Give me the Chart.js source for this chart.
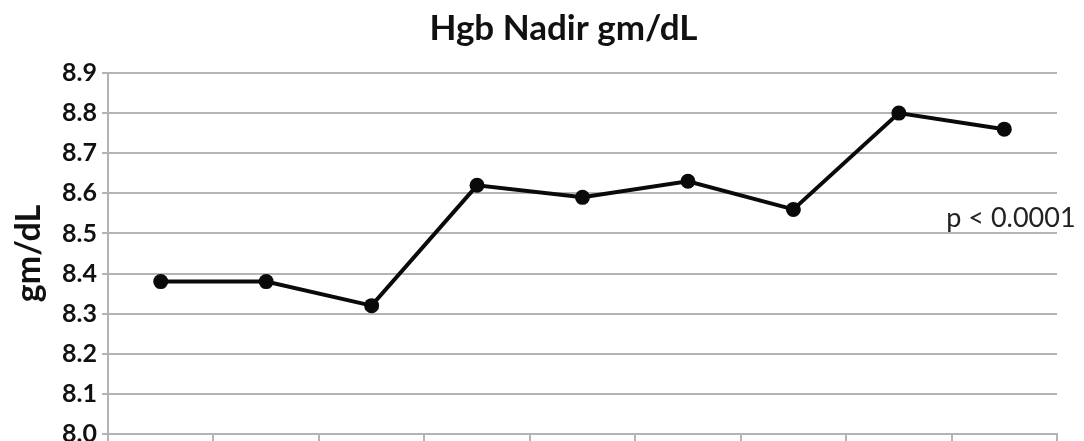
<!DOCTYPE html>
<html>
<head>
<meta charset="utf-8">
<script src="https://cdn.jsdelivr.net/npm/chart.js@4"></script>
<style>
  html, body { margin: 0; padding: 0; background: #fff; overflow: hidden; }
  #wrap { width: 1084px; height: 454px; }
</style>
</head>
<body>
<div id="wrap"><canvas id="hgbChart"></canvas></div>
<script>
// Datos
const categories = ["1", "2", "3", "4", "5", "6", "7", "8", "9"];
const hgbNadir = [8.38, 8.38, 8.32, 8.62, 8.59, 8.63, 8.56, 8.80, 8.76];
const yTicks = [8.0, 8.1, 8.2, 8.3, 8.4, 8.5, 8.6, 8.7, 8.8, 8.9];
const chartTitle = "Hgb Nadir gm/dL";
const pValueText = "p < 0.0001";

const gridGray = "#b4b4b4";

// Titulo y valor p dibujados a mano
const textPlugin = {
  id: "chartText",
  afterDraw(chart) {
    const ctx = chart.ctx;
    const area = chart.chartArea;
    ctx.save();
    ctx.fillStyle = "#111";
    ctx.textAlign = "center";
    ctx.textBaseline = "alphabetic";
    ctx.font = "bold 35px Lato";
    ctx.fillText(chartTitle, area.left + area.width * 0.48, 40);

    // valor p, justo encima de la linea 8.5 junto al ultimo punto
    const x = chart.scales.x.getPixelForValue(8) - 58;
    const y = chart.scales.y.getPixelForValue(8.5) - 6;
    ctx.font = "27px Lato";
    ctx.fillStyle = "#222";
    ctx.textAlign = "left";
    ctx.fillText(pValueText, x, y);
    ctx.restore();
  },
};

const ctx = document.getElementById("hgbChart").getContext("2d");
new Chart(ctx, {
  type: "line",
  data: {
    labels: categories,
    datasets: [
      {
        label: "Hgb Nadir",
        data: hgbNadir,
        borderColor: "#0a0a0a",
        backgroundColor: "#0a0a0a",
        borderWidth: 4,
        pointRadius: 7.5,
        pointHoverRadius: 7.5,
        pointBorderWidth: 0,
        fill: false,
        tension: 0,
      },
    ],
  },
  options: {
    responsive: true,
    maintainAspectRatio: false,
    animation: false,
    layout: { padding: { left: 0, right: 27, top: 73, bottom: 0 } },
    plugins: {
      legend: { display: false },
      tooltip: { enabled: false },
      title: { display: false },
    },
    scales: {
      x: {
        offset: true,
        ticks: { display: false },
        grid: {
          offset: true,
          drawOnChartArea: false,
          drawTicks: true,
          tickLength: 9,
          color: gridGray,
          lineWidth: 2,
        },
        border: { display: true, color: gridGray, width: 2 },
        afterFit(scale) { scale.height = 8; },
      },
      y: {
        min: 8.0,
        max: 8.9,
        afterBuildTicks(scale) {
          scale.ticks = yTicks.map((v) => ({ value: v }));
        },
        ticks: {
          color: "#111",
          font: { family: "Lato", size: 25, weight: "bold" },
          padding: 5,
          callback: (v) => Number(v).toFixed(1),
        },
        title: {
          display: true,
          text: "gm/dL",
          color: "#111",
          font: { family: "Lato", size: 34, weight: "bold", lineHeight: 1 },
          padding: { top: 12, bottom: 0 },
        },
        grid: { color: gridGray, lineWidth: 2, tickLength: 6 },
        border: { display: true, color: gridGray, width: 2 },
        afterFit(scale) { scale.width = 108; },
      },
    },
  },
  plugins: [textPlugin],
});
</script>
</body>
</html>
